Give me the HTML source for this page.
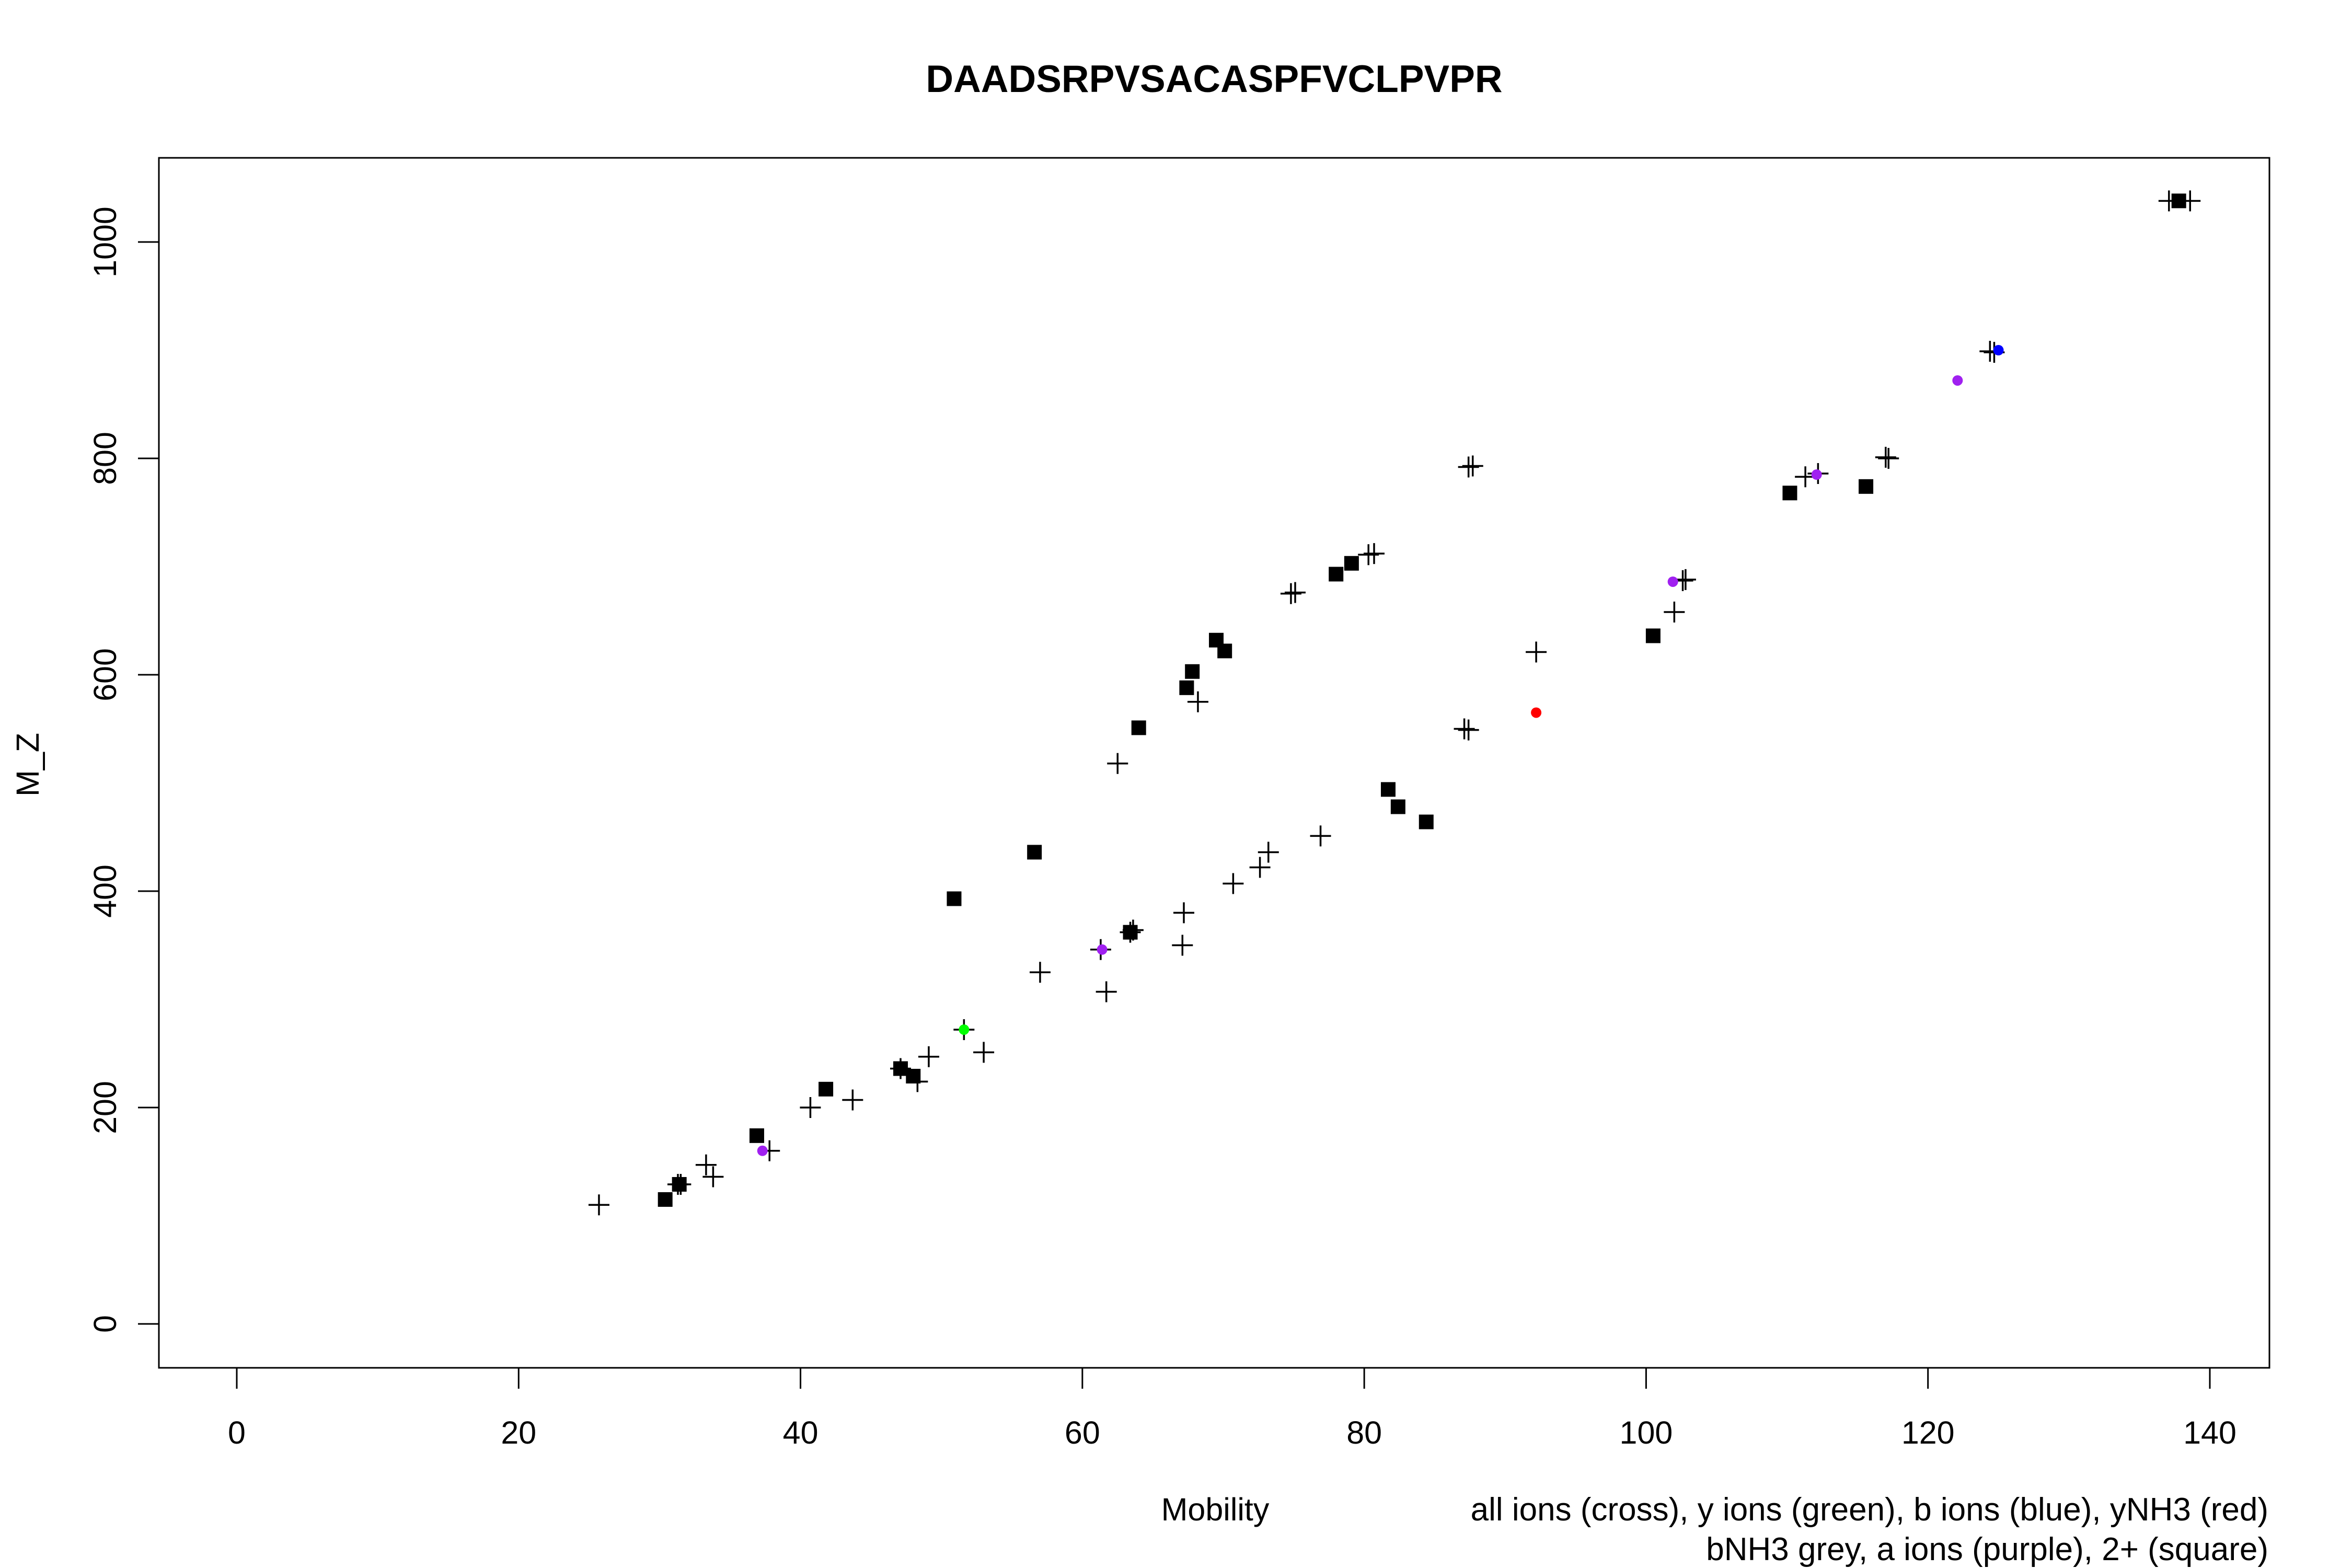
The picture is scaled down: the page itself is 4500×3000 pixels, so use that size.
<!DOCTYPE html>
<html><head><meta charset="utf-8"><style>
html,body{margin:0;padding:0;background:#fff}
svg{display:block}
text{font-family:"Liberation Sans",Arial,sans-serif;fill:#000}
</style></head><body>
<svg id="chart" width="4500" height="3000" viewBox="0 0 4500 3000" xmlns="http://www.w3.org/2000/svg">
<rect width="4500" height="3000" fill="#fff"/>
<text x="2323" y="176" font-size="73" font-weight="bold" text-anchor="middle">DAADSRPVSACASPFVCLPVPR</text>
<rect x="304" y="302" width="4038" height="2315" fill="none" stroke="#000" stroke-width="3"/>
<g id="axes"></g>
<g id="marks"></g>
<text x="2325" y="2909" font-size="61" text-anchor="middle">Mobility</text>
<text transform="translate(74,1463) rotate(-90)" font-size="61" text-anchor="middle">M_Z</text>
<text x="4340" y="2909" font-size="62" text-anchor="end">all ions (cross), y ions (green), b ions (blue), yNH3 (red)</text>
<text x="4340" y="2985" font-size="62" text-anchor="end">bNH3 grey, a ions (purple), 2+ (square)</text>
</svg>
<script>
const xTicks=[0,20,40,60,80,100,120,140];
const yTicks=[0,200,400,600,800,1000];
const crossX=[25.7,31.3,33.3,33.8,37.8,40.7,43.7,47.1,48.3,49.1,51.6,53,57,61.3,61.7,62.5,63.4,67.1,67.2,68.2,70.7,72.6,73.2,74.8,76.9,80.3,87.1,87.4,92.2,102,102.6,111.3,112.2,117,124.4,137.1,138.6,31.5,63.6,75.1,80.7,87.4,87.7,102.8,117.2,124.7];
const crossY=[110,129,147,136,160,200,207,236,224,247,272,251,325,346,307,518,362,350,380,575,407,422,436,675,451,711,550,792,621,658,687,783,786,801,899,1038,1038,129,364,676,712,549,793,688,800,898];
const sqX=[30.4,31.4,36.9,41.8,47.1,48,50.9,56.6,63.4,64,67.4,67.8,69.5,70.1,78,79.1,81.7,82.4,84.4,100.5,110.2,115.6,137.8];
const sqY=[115,129,174,217,236,229,393,436,362,551,588,603,632,622,693,703,494,478,464,636,768,774,1038];
const purpleX=[37.3,61.4,101.9,112.1,122.1];
const purpleY=[160,346,686,785,872];
const greenX=[51.6];const greenY=[272];
const blueX=[125];const blueY=[900];
const redX=[92.2];const redY=[565];

const NS="http://www.w3.org/2000/svg";
function sx(v){return 453+v*(4228-453)/140;}
function sy(v){return 2533-v*(2533-463)/1000;}
const axes=document.getElementById('axes'),marks=document.getElementById('marks');
function mk(tag,attrs,parent){const e=document.createElementNS(NS,tag);for(const k in attrs)e.setAttribute(k,attrs[k]);parent.appendChild(e);return e;}
mk('line',{x1:sx(0),x2:sx(140),y1:2617,y2:2617,stroke:'#000','stroke-width':3},axes);
xTicks.forEach(t=>{
 const l=mk('line',{x1:sx(t),x2:sx(t),y1:2617,y2:2657,stroke:'#000','stroke-width':3},axes);
 
 
 const tx=mk('text',{x:sx(t),y:2762,'font-size':61,'text-anchor':'middle'},axes);tx.textContent=t;
 
 
});
yTicks.forEach(t=>{
 const l=mk('line',{x1:264,x2:304,y1:sy(t),y2:sy(t),stroke:'#000','stroke-width':3},axes);
 
 
 const tx=mk('text',{transform:`translate(222,${sy(t)}) rotate(-90)`,'font-size':61,'text-anchor':'middle'},axes);tx.textContent=t;
 
 
});
crossX.forEach((v,i)=>{
 const x=sx(v),y=sy(crossY[i]);
 const p=mk('path',{d:`M${x-20} ${y}H${x+20}M${x} ${y-20}V${y+20}`,stroke:'#000','stroke-width':3.5,fill:'none'},marks);
 
 
});
function dots(xs,ys,col,name){xs.forEach((v,i)=>{
 const c=mk('ellipse',{cx:sx(v),cy:sy(ys[i]),rx:10,ry:10,fill:col},marks);
 
 
});}
dots(greenX,greenY,'#00ff00','y-ion-point');
dots(blueX,blueY,'#0000ff','b-ion-point');
dots(redX,redY,'#ff0000','ynh3-point');
dots(purpleX,purpleY,'#a020f0','a-ion-point');
sqX.forEach((v,i)=>{
 const r=mk('rect',{x:sx(v)-14,y:sy(sqY[i])-14,width:28,height:28,fill:'#000'},marks);
 
 
});
</script>
</body></html>
